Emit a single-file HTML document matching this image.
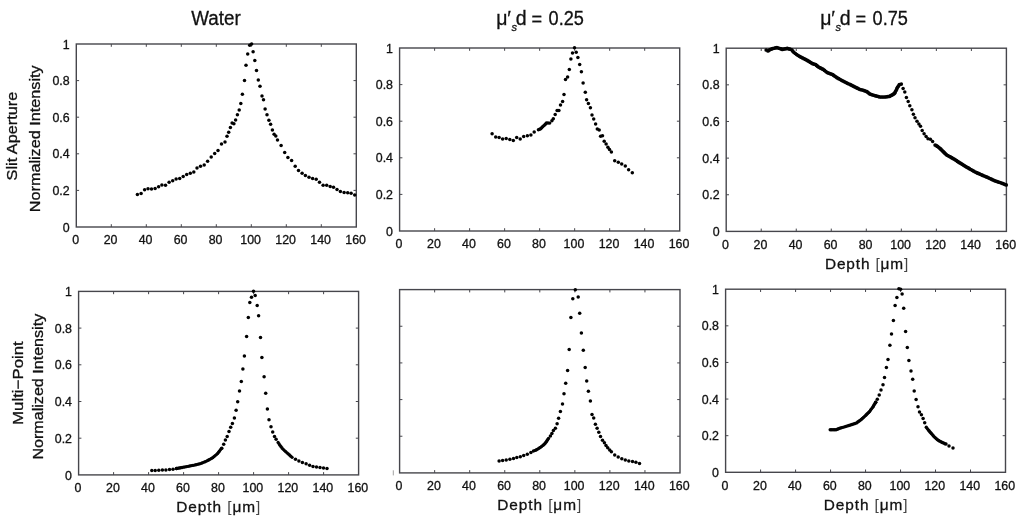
<!DOCTYPE html>
<html><head><meta charset="utf-8"><title>Depth profiles</title>
<style>
html,body{margin:0;padding:0;background:#fff;width:1024px;height:523px;overflow:hidden;}
svg{display:block;will-change:transform;}
text{font-family:"Liberation Sans",sans-serif;}
</style></head><body>
<svg width="1024" height="523" viewBox="0 0 1024 523"><rect width="1024" height="523" fill="#fff"/>
<g stroke="#46464c" stroke-width="1.4" fill="none">
<rect x="76.3" y="44" width="280" height="183"/>
<path stroke-width="1" d="M111.3 227v-2.8M111.3 44v2.8M146.3 227v-2.8M146.3 44v2.8M181.3 227v-2.8M181.3 44v2.8M216.3 227v-2.8M216.3 44v2.8M251.3 227v-2.8M251.3 44v2.8M286.3 227v-2.8M286.3 44v2.8M321.3 227v-2.8M321.3 44v2.8M76.3 190.4h2.8M356.3 190.4h-2.8M76.3 153.8h2.8M356.3 153.8h-2.8M76.3 117.2h2.8M356.3 117.2h-2.8M76.3 80.6h2.8M356.3 80.6h-2.8"/>
</g>
<g stroke="#46464c" stroke-width="1.4" fill="none">
<rect x="399.6" y="48" width="280.1" height="183"/>
<path stroke-width="1" d="M434.61 231v-2.8M434.61 48v2.8M469.62 231v-2.8M469.62 48v2.8M504.64 231v-2.8M504.64 48v2.8M539.65 231v-2.8M539.65 48v2.8M574.66 231v-2.8M574.66 48v2.8M609.68 231v-2.8M609.68 48v2.8M644.69 231v-2.8M644.69 48v2.8M399.6 194.4h2.8M679.7 194.4h-2.8M399.6 157.8h2.8M679.7 157.8h-2.8M399.6 121.2h2.8M679.7 121.2h-2.8M399.6 84.6h2.8M679.7 84.6h-2.8"/>
</g>
<g stroke="#46464c" stroke-width="1.4" fill="none">
<rect x="726.2" y="48.2" width="280.2" height="183.2"/>
<path stroke-width="1" d="M761.23 231.4v-2.8M761.23 48.2v2.8M796.25 231.4v-2.8M796.25 48.2v2.8M831.27 231.4v-2.8M831.27 48.2v2.8M866.3 231.4v-2.8M866.3 48.2v2.8M901.33 231.4v-2.8M901.33 48.2v2.8M936.35 231.4v-2.8M936.35 48.2v2.8M971.38 231.4v-2.8M971.38 48.2v2.8M726.2 194.76h2.8M1006.4 194.76h-2.8M726.2 158.12h2.8M1006.4 158.12h-2.8M726.2 121.48h2.8M1006.4 121.48h-2.8M726.2 84.84h2.8M1006.4 84.84h-2.8"/>
</g>
<g stroke="#46464c" stroke-width="1.4" fill="none">
<rect x="78.6" y="291.4" width="280" height="183.5"/>
<path stroke-width="1" d="M113.6 474.9v-2.8M113.6 291.4v2.8M148.6 474.9v-2.8M148.6 291.4v2.8M183.6 474.9v-2.8M183.6 291.4v2.8M218.6 474.9v-2.8M218.6 291.4v2.8M253.6 474.9v-2.8M253.6 291.4v2.8M288.6 474.9v-2.8M288.6 291.4v2.8M323.6 474.9v-2.8M323.6 291.4v2.8M78.6 438.2h2.8M358.6 438.2h-2.8M78.6 401.5h2.8M358.6 401.5h-2.8M78.6 364.8h2.8M358.6 364.8h-2.8M78.6 328.1h2.8M358.6 328.1h-2.8"/>
</g>
<g stroke="#46464c" stroke-width="1.4" fill="none">
<rect x="399.6" y="289.6" width="280.4" height="183.3"/>
<path stroke-width="1" d="M434.65 472.9v-2.8M434.65 289.6v2.8M469.7 472.9v-2.8M469.7 289.6v2.8M504.75 472.9v-2.8M504.75 289.6v2.8M539.8 472.9v-2.8M539.8 289.6v2.8M574.85 472.9v-2.8M574.85 289.6v2.8M609.9 472.9v-2.8M609.9 289.6v2.8M644.95 472.9v-2.8M644.95 289.6v2.8M399.6 436.24h2.8M680 436.24h-2.8M399.6 399.58h2.8M680 399.58h-2.8M399.6 362.92h2.8M680 362.92h-2.8M399.6 326.26h2.8M680 326.26h-2.8"/>
</g>
<g stroke="#46464c" stroke-width="1.4" fill="none">
<rect x="725.6" y="289.2" width="279.9" height="183.1"/>
<path stroke-width="1" d="M760.59 472.3v-2.8M760.59 289.2v2.8M795.58 472.3v-2.8M795.58 289.2v2.8M830.56 472.3v-2.8M830.56 289.2v2.8M865.55 472.3v-2.8M865.55 289.2v2.8M900.54 472.3v-2.8M900.54 289.2v2.8M935.52 472.3v-2.8M935.52 289.2v2.8M970.51 472.3v-2.8M970.51 289.2v2.8M725.6 435.68h2.8M1005.5 435.68h-2.8M725.6 399.06h2.8M1005.5 399.06h-2.8M725.6 362.44h2.8M1005.5 362.44h-2.8M725.6 325.82h2.8M1005.5 325.82h-2.8"/>
</g>
<path d="M393.3 470.3V475.4" stroke="#999" stroke-width="0.9"/>
<g font-size="12.4" fill="#111" stroke="#111" stroke-width="0.3">
<text x="75.6" y="244.2" text-anchor="middle">0</text>
<text x="110.6" y="244.2" text-anchor="middle">20</text>
<text x="145.6" y="244.2" text-anchor="middle">40</text>
<text x="180.6" y="244.2" text-anchor="middle">60</text>
<text x="215.6" y="244.2" text-anchor="middle">80</text>
<text x="250.6" y="244.2" text-anchor="middle">100</text>
<text x="285.6" y="244.2" text-anchor="middle">120</text>
<text x="320.6" y="244.2" text-anchor="middle">140</text>
<text x="355.6" y="244.2" text-anchor="middle">160</text>
<text x="69.7" y="231.6" text-anchor="end">0</text>
<text x="69.7" y="195" text-anchor="end">0.2</text>
<text x="69.7" y="158.4" text-anchor="end">0.4</text>
<text x="69.7" y="121.8" text-anchor="end">0.6</text>
<text x="69.7" y="85.2" text-anchor="end">0.8</text>
<text x="69.7" y="48.6" text-anchor="end">1</text>
<text x="398.9" y="248.2" text-anchor="middle">0</text>
<text x="433.91" y="248.2" text-anchor="middle">20</text>
<text x="468.93" y="248.2" text-anchor="middle">40</text>
<text x="503.94" y="248.2" text-anchor="middle">60</text>
<text x="538.95" y="248.2" text-anchor="middle">80</text>
<text x="573.96" y="248.2" text-anchor="middle">100</text>
<text x="608.98" y="248.2" text-anchor="middle">120</text>
<text x="643.99" y="248.2" text-anchor="middle">140</text>
<text x="679" y="248.2" text-anchor="middle">160</text>
<text x="393" y="235.6" text-anchor="end">0</text>
<text x="393" y="199" text-anchor="end">0.2</text>
<text x="393" y="162.4" text-anchor="end">0.4</text>
<text x="393" y="125.8" text-anchor="end">0.6</text>
<text x="393" y="89.2" text-anchor="end">0.8</text>
<text x="393" y="52.6" text-anchor="end">1</text>
<text x="725.5" y="248.6" text-anchor="middle">0</text>
<text x="760.52" y="248.6" text-anchor="middle">20</text>
<text x="795.55" y="248.6" text-anchor="middle">40</text>
<text x="830.57" y="248.6" text-anchor="middle">60</text>
<text x="865.6" y="248.6" text-anchor="middle">80</text>
<text x="900.62" y="248.6" text-anchor="middle">100</text>
<text x="935.65" y="248.6" text-anchor="middle">120</text>
<text x="970.67" y="248.6" text-anchor="middle">140</text>
<text x="1005.7" y="248.6" text-anchor="middle">160</text>
<text x="719.6" y="236" text-anchor="end">0</text>
<text x="719.6" y="199.36" text-anchor="end">0.2</text>
<text x="719.6" y="162.72" text-anchor="end">0.4</text>
<text x="719.6" y="126.08" text-anchor="end">0.6</text>
<text x="719.6" y="89.44" text-anchor="end">0.8</text>
<text x="719.6" y="52.8" text-anchor="end">1</text>
<text x="77.9" y="492.1" text-anchor="middle">0</text>
<text x="112.9" y="492.1" text-anchor="middle">20</text>
<text x="147.9" y="492.1" text-anchor="middle">40</text>
<text x="182.9" y="492.1" text-anchor="middle">60</text>
<text x="217.9" y="492.1" text-anchor="middle">80</text>
<text x="252.9" y="492.1" text-anchor="middle">100</text>
<text x="287.9" y="492.1" text-anchor="middle">120</text>
<text x="322.9" y="492.1" text-anchor="middle">140</text>
<text x="357.9" y="492.1" text-anchor="middle">160</text>
<text x="72" y="479.5" text-anchor="end">0</text>
<text x="72" y="442.8" text-anchor="end">0.2</text>
<text x="72" y="406.1" text-anchor="end">0.4</text>
<text x="72" y="369.4" text-anchor="end">0.6</text>
<text x="72" y="332.7" text-anchor="end">0.8</text>
<text x="72" y="296" text-anchor="end">1</text>
<text x="398.9" y="490.1" text-anchor="middle">0</text>
<text x="433.95" y="490.1" text-anchor="middle">20</text>
<text x="469" y="490.1" text-anchor="middle">40</text>
<text x="504.05" y="490.1" text-anchor="middle">60</text>
<text x="539.1" y="490.1" text-anchor="middle">80</text>
<text x="574.15" y="490.1" text-anchor="middle">100</text>
<text x="609.2" y="490.1" text-anchor="middle">120</text>
<text x="644.25" y="490.1" text-anchor="middle">140</text>
<text x="679.3" y="490.1" text-anchor="middle">160</text>
<text x="724.9" y="489.5" text-anchor="middle">0</text>
<text x="759.89" y="489.5" text-anchor="middle">20</text>
<text x="794.88" y="489.5" text-anchor="middle">40</text>
<text x="829.86" y="489.5" text-anchor="middle">60</text>
<text x="864.85" y="489.5" text-anchor="middle">80</text>
<text x="899.84" y="489.5" text-anchor="middle">100</text>
<text x="934.82" y="489.5" text-anchor="middle">120</text>
<text x="969.81" y="489.5" text-anchor="middle">140</text>
<text x="1004.8" y="489.5" text-anchor="middle">160</text>
<text x="719" y="476.9" text-anchor="end">0</text>
<text x="719" y="440.28" text-anchor="end">0.2</text>
<text x="719" y="403.66" text-anchor="end">0.4</text>
<text x="719" y="367.04" text-anchor="end">0.6</text>
<text x="719" y="330.42" text-anchor="end">0.8</text>
<text x="719" y="293.8" text-anchor="end">1</text>
</g>
<g font-size="19.5" fill="#111" stroke="#111" stroke-width="0.3">
<text x="191.2" y="25" textLength="49.5" lengthAdjust="spacingAndGlyphs">Water</text>
<text x="496.2" y="24.6">μ</text>
<text x="507.2" y="24.6">′</text>
<text x="511.4" y="31.3" style="font-size:11px;font-style:italic">s</text>
<text x="515.8" y="24.6">d</text>
<text x="531.4" y="26.1" textLength="10.6" lengthAdjust="spacingAndGlyphs">=</text>
<text x="548.6" y="24.6" textLength="35.3" lengthAdjust="spacingAndGlyphs">0.25</text>
<text x="820.2" y="24.6">μ</text>
<text x="831.2" y="24.6">′</text>
<text x="835.4" y="31.3" style="font-size:11px;font-style:italic">s</text>
<text x="839.8" y="24.6">d</text>
<text x="855.4" y="26.1" textLength="10.6" lengthAdjust="spacingAndGlyphs">=</text>
<text x="872.6" y="24.6" textLength="35.3" lengthAdjust="spacingAndGlyphs">0.75</text>
</g>
<g font-size="15.4" fill="#111" stroke="#111" stroke-width="0.3">
<text x="825" y="268.9" textLength="83.2" lengthAdjust="spacing">Depth <tspan fill="#444" stroke="none">[</tspan>μm<tspan fill="#444" stroke="none">]</tspan></text>
<text x="176.2" y="512.4" textLength="84.1" lengthAdjust="spacing">Depth <tspan fill="#444" stroke="none">[</tspan>μm<tspan fill="#444" stroke="none">]</tspan></text>
<text x="497.2" y="509.8" textLength="84" lengthAdjust="spacing">Depth <tspan fill="#444" stroke="none">[</tspan>μm<tspan fill="#444" stroke="none">]</tspan></text>
<text x="823.8" y="509.9" textLength="83.7" lengthAdjust="spacing">Depth <tspan fill="#444" stroke="none">[</tspan>μm<tspan fill="#444" stroke="none">]</tspan></text>
</g>
<g font-size="15" fill="#111" stroke="#111" stroke-width="0.3">
<text transform="translate(17 180.4) rotate(-90)" x="0" y="0" textLength="88.6" lengthAdjust="spacingAndGlyphs">Slit Aperture</text>
<text transform="translate(40 212.2) rotate(-90)" x="0" y="0" textLength="146.8" lengthAdjust="spacingAndGlyphs">Normalized Intensity</text>
<text transform="translate(23 425) rotate(-90)" x="0" y="0" textLength="83.8" lengthAdjust="spacingAndGlyphs">Multi−Point</text>
<text transform="translate(42.6 459.6) rotate(-90)" x="0" y="0" textLength="145.8" lengthAdjust="spacingAndGlyphs">Normalized Intensity</text>
</g>
<g fill="#000">
<circle cx="137.4" cy="194.5" r="1.75"/><circle cx="141.1" cy="193.4" r="1.75"/><circle cx="144.6" cy="189.8" r="1.75"/><circle cx="148" cy="188.8" r="1.75"/><circle cx="151.5" cy="189.1" r="1.75"/><circle cx="155.1" cy="188.5" r="1.75"/><circle cx="158.6" cy="186.7" r="1.75"/><circle cx="161.9" cy="184.9" r="1.75"/><circle cx="165.5" cy="185.2" r="1.75"/><circle cx="169.1" cy="182.3" r="1.75"/><circle cx="172.7" cy="180.8" r="1.75"/><circle cx="176.1" cy="179.1" r="1.75"/><circle cx="179.7" cy="178.5" r="1.75"/><circle cx="183.2" cy="176.6" r="1.75"/><circle cx="186.7" cy="174.4" r="1.75"/><circle cx="190.3" cy="173.3" r="1.75"/><circle cx="193.8" cy="172.1" r="1.75"/><circle cx="197" cy="168.1" r="1.75"/><circle cx="200.5" cy="166.2" r="1.75"/><circle cx="204.2" cy="164.9" r="1.75"/><circle cx="207.6" cy="161.2" r="1.75"/><circle cx="211.2" cy="157.1" r="1.75"/><circle cx="214.7" cy="153.4" r="1.75"/><circle cx="218" cy="150.5" r="1.75"/><circle cx="221.5" cy="143.9" r="1.75"/><circle cx="225" cy="142.1" r="1.75"/><circle cx="227" cy="136.3" r="1.75"/><circle cx="228.7" cy="132.3" r="1.75"/><circle cx="230.4" cy="127.6" r="1.75"/><circle cx="232.1" cy="123.1" r="1.75"/><circle cx="233.9" cy="123.8" r="1.75"/><circle cx="235.6" cy="120.1" r="1.75"/><circle cx="237.4" cy="114.7" r="1.75"/><circle cx="239.2" cy="109.9" r="1.75"/><circle cx="240.8" cy="103.6" r="1.75"/><circle cx="242.4" cy="94.2" r="1.75"/><circle cx="244.5" cy="80.5" r="1.75"/><circle cx="246" cy="65.2" r="1.75"/><circle cx="247.7" cy="54" r="1.75"/><circle cx="249.7" cy="45.2" r="1.75"/><circle cx="251.6" cy="44" r="1.75"/><circle cx="253.1" cy="51.8" r="1.75"/><circle cx="254.8" cy="60.4" r="1.75"/><circle cx="256.5" cy="70.4" r="1.75"/><circle cx="258.3" cy="79.9" r="1.75"/><circle cx="260" cy="86.2" r="1.75"/><circle cx="262" cy="96.1" r="1.75"/><circle cx="263.5" cy="99.8" r="1.75"/><circle cx="265.1" cy="108.9" r="1.75"/><circle cx="267" cy="114.7" r="1.75"/><circle cx="268.9" cy="120.2" r="1.75"/><circle cx="270.6" cy="124.2" r="1.75"/><circle cx="272.4" cy="130" r="1.75"/><circle cx="274.1" cy="134.2" r="1.75"/><circle cx="275.8" cy="135.9" r="1.75"/><circle cx="277.5" cy="139.9" r="1.75"/><circle cx="281.1" cy="145.5" r="1.75"/><circle cx="284.7" cy="152.5" r="1.75"/><circle cx="287.9" cy="157.6" r="1.75"/><circle cx="291.6" cy="160.5" r="1.75"/><circle cx="295.2" cy="166.2" r="1.75"/><circle cx="298.5" cy="170.4" r="1.75"/><circle cx="302.1" cy="173.3" r="1.75"/><circle cx="305.4" cy="175.4" r="1.75"/><circle cx="309" cy="177.3" r="1.75"/><circle cx="312.6" cy="178.5" r="1.75"/><circle cx="316.2" cy="179.3" r="1.75"/><circle cx="319.5" cy="182.2" r="1.75"/><circle cx="323.1" cy="185.2" r="1.75"/><circle cx="326.7" cy="185.2" r="1.75"/><circle cx="330.2" cy="186.5" r="1.75"/><circle cx="333.5" cy="187.3" r="1.75"/><circle cx="337" cy="189.4" r="1.75"/><circle cx="340.4" cy="191.4" r="1.75"/><circle cx="344.1" cy="192.6" r="1.75"/><circle cx="347.7" cy="192.8" r="1.75"/><circle cx="351.1" cy="193.2" r="1.75"/><circle cx="354.7" cy="194.9" r="1.75"/>

<circle cx="492.1" cy="133.7" r="1.75"/><circle cx="495.7" cy="137" r="1.75"/><circle cx="499.1" cy="137.4" r="1.75"/><circle cx="502.6" cy="138.9" r="1.75"/><circle cx="506.2" cy="138.4" r="1.75"/><circle cx="509.8" cy="139.4" r="1.75"/><circle cx="513.3" cy="140.5" r="1.75"/><circle cx="516.7" cy="137.4" r="1.75"/><circle cx="520.2" cy="138.9" r="1.75"/><circle cx="523.7" cy="136.4" r="1.75"/><circle cx="527.4" cy="135.8" r="1.75"/><circle cx="530.9" cy="135.1" r="1.75"/><circle cx="534.2" cy="132.1" r="1.75"/><circle cx="551.9" cy="120.7" r="1.75"/><circle cx="553.3" cy="118.8" r="1.75"/><circle cx="555.2" cy="114.6" r="1.75"/><circle cx="557.1" cy="110.6" r="1.75"/><circle cx="558.9" cy="110.4" r="1.75"/><circle cx="560.5" cy="104.9" r="1.75"/><circle cx="562.6" cy="101.5" r="1.75"/><circle cx="564" cy="94.5" r="1.75"/><circle cx="565.5" cy="79.6" r="1.75"/><circle cx="567.6" cy="77" r="1.75"/><circle cx="569.3" cy="69.6" r="1.75"/><circle cx="570.9" cy="59.1" r="1.75"/><circle cx="572.5" cy="52.9" r="1.75"/><circle cx="574.5" cy="47.8" r="1.75"/><circle cx="576.2" cy="52.3" r="1.75"/><circle cx="577.9" cy="57.4" r="1.75"/><circle cx="579.7" cy="64.6" r="1.75"/><circle cx="581.4" cy="71.8" r="1.75"/><circle cx="583.1" cy="83" r="1.75"/><circle cx="585.3" cy="92.3" r="1.75"/><circle cx="586.6" cy="99.7" r="1.75"/><circle cx="588.4" cy="103.6" r="1.75"/><circle cx="590.4" cy="107.8" r="1.75"/><circle cx="592" cy="115" r="1.75"/><circle cx="593.7" cy="118.9" r="1.75"/><circle cx="595.6" cy="123.9" r="1.75"/><circle cx="597.3" cy="129.1" r="1.75"/><circle cx="599.2" cy="129.9" r="1.75"/><circle cx="600.6" cy="136.3" r="1.75"/><circle cx="602.5" cy="135.7" r="1.75"/><circle cx="604.2" cy="141.3" r="1.75"/><circle cx="606.1" cy="143.9" r="1.75"/><circle cx="607.9" cy="147.2" r="1.75"/><circle cx="609.5" cy="149.6" r="1.75"/><circle cx="611.4" cy="152" r="1.75"/><circle cx="614.7" cy="160.8" r="1.75"/><circle cx="618.3" cy="162.3" r="1.75"/><circle cx="621.7" cy="164" r="1.75"/><circle cx="625.3" cy="165.9" r="1.75"/><circle cx="628.6" cy="169.7" r="1.75"/><circle cx="632.3" cy="172.8" r="1.75"/>
<circle cx="538.4" cy="129.8" r="1.7"/><circle cx="539.55" cy="129.25" r="1.7"/><circle cx="540.7" cy="128.7" r="1.7"/><circle cx="541.65" cy="127.75" r="1.7"/><circle cx="542.6" cy="126.8" r="1.7"/><circle cx="543.75" cy="125.8" r="1.7"/><circle cx="544.9" cy="124.8" r="1.7"/><circle cx="545.65" cy="123.85" r="1.7"/><circle cx="546.4" cy="122.9" r="1.7"/><circle cx="548" cy="123" r="1.7"/><circle cx="549.7" cy="123.1" r="1.7"/>
<circle cx="903.1" cy="88.5" r="1.75"/><circle cx="904.8" cy="92" r="1.75"/><circle cx="906.4" cy="97.5" r="1.75"/><circle cx="908.2" cy="101.4" r="1.75"/><circle cx="909.8" cy="105.8" r="1.75"/><circle cx="911.9" cy="109.8" r="1.75"/><circle cx="913.4" cy="114.2" r="1.75"/><circle cx="915" cy="117.7" r="1.75"/><circle cx="917" cy="121.2" r="1.75"/><circle cx="918.9" cy="123.9" r="1.75"/><circle cx="920.5" cy="126.3" r="1.75"/><circle cx="922.2" cy="130.4" r="1.75"/><circle cx="924.1" cy="133.7" r="1.75"/><circle cx="926.1" cy="136.6" r="1.75"/><circle cx="928" cy="138.8" r="1.75"/><circle cx="930.4" cy="139.2" r="1.75"/><circle cx="932.6" cy="141.6" r="1.75"/>
<circle cx="766.2" cy="50" r="1.85"/><circle cx="768" cy="51" r="1.85"/><circle cx="769" cy="50.25" r="1.85"/><circle cx="770" cy="49.5" r="1.85"/><circle cx="771.3" cy="49.05" r="1.85"/><circle cx="772.6" cy="48.6" r="1.85"/><circle cx="774.03" cy="48.27" r="1.85"/><circle cx="775.47" cy="47.93" r="1.85"/><circle cx="776.9" cy="47.6" r="1.85"/><circle cx="778.45" cy="48.05" r="1.85"/><circle cx="780" cy="48.5" r="1.85"/><circle cx="781.15" cy="48.95" r="1.85"/><circle cx="782.3" cy="49.4" r="1.85"/><circle cx="783.65" cy="49.1" r="1.85"/><circle cx="785" cy="48.8" r="1.85"/><circle cx="786.2" cy="48.6" r="1.85"/><circle cx="787.4" cy="48.4" r="1.85"/><circle cx="788.7" cy="48.8" r="1.85"/><circle cx="790" cy="49.2" r="1.85"/><circle cx="791.7" cy="49.8" r="1.85"/><circle cx="792.85" cy="51.15" r="1.85"/><circle cx="794" cy="52.5" r="1.85"/><circle cx="795.37" cy="53.5" r="1.85"/><circle cx="796.73" cy="54.5" r="1.85"/><circle cx="798.1" cy="55.5" r="1.85"/><circle cx="799.55" cy="56.35" r="1.85"/><circle cx="801" cy="57.2" r="1.85"/><circle cx="802.48" cy="57.95" r="1.85"/><circle cx="803.95" cy="58.7" r="1.85"/><circle cx="805.42" cy="59.45" r="1.85"/><circle cx="806.9" cy="60.2" r="1.85"/><circle cx="808.06" cy="60.9" r="1.85"/><circle cx="809.22" cy="61.6" r="1.85"/><circle cx="810.38" cy="62.3" r="1.85"/><circle cx="811.54" cy="63" r="1.85"/><circle cx="812.7" cy="63.7" r="1.85"/><circle cx="814.15" cy="64.15" r="1.85"/><circle cx="815.6" cy="64.6" r="1.85"/><circle cx="816.57" cy="65.4" r="1.85"/><circle cx="817.53" cy="66.2" r="1.85"/><circle cx="818.5" cy="67" r="1.85"/><circle cx="819.67" cy="67.6" r="1.85"/><circle cx="820.85" cy="68.2" r="1.85"/><circle cx="822.03" cy="68.8" r="1.85"/><circle cx="823.2" cy="69.4" r="1.85"/><circle cx="824.57" cy="70.47" r="1.85"/><circle cx="825.93" cy="71.53" r="1.85"/><circle cx="827.3" cy="72.6" r="1.85"/><circle cx="828.62" cy="73.1" r="1.85"/><circle cx="829.95" cy="73.6" r="1.85"/><circle cx="831.27" cy="74.1" r="1.85"/><circle cx="832.6" cy="74.6" r="1.85"/><circle cx="833.77" cy="75.42" r="1.85"/><circle cx="834.95" cy="76.25" r="1.85"/><circle cx="836.12" cy="77.08" r="1.85"/><circle cx="837.3" cy="77.9" r="1.85"/><circle cx="838.75" cy="78.7" r="1.85"/><circle cx="840.2" cy="79.5" r="1.85"/><circle cx="841.65" cy="80.3" r="1.85"/><circle cx="843.1" cy="81.1" r="1.85"/><circle cx="844.58" cy="81.82" r="1.85"/><circle cx="846.05" cy="82.55" r="1.85"/><circle cx="847.52" cy="83.28" r="1.85"/><circle cx="849" cy="84" r="1.85"/><circle cx="850.45" cy="84.72" r="1.85"/><circle cx="851.9" cy="85.45" r="1.85"/><circle cx="853.35" cy="86.18" r="1.85"/><circle cx="854.8" cy="86.9" r="1.85"/><circle cx="856.1" cy="87.55" r="1.85"/><circle cx="857.4" cy="88.2" r="1.85"/><circle cx="858.7" cy="88.85" r="1.85"/><circle cx="860" cy="89.5" r="1.85"/><circle cx="861.75" cy="89.9" r="1.85"/><circle cx="863.5" cy="90.3" r="1.85"/><circle cx="864.67" cy="90.77" r="1.85"/><circle cx="865.83" cy="91.23" r="1.85"/><circle cx="867" cy="91.7" r="1.85"/><circle cx="868" cy="92.5" r="1.85"/><circle cx="869" cy="93.3" r="1.85"/><circle cx="870" cy="94.1" r="1.85"/><circle cx="871.53" cy="94.57" r="1.85"/><circle cx="873.07" cy="95.03" r="1.85"/><circle cx="874.6" cy="95.5" r="1.85"/><circle cx="875.92" cy="95.88" r="1.85"/><circle cx="877.25" cy="96.25" r="1.85"/><circle cx="878.58" cy="96.62" r="1.85"/><circle cx="879.9" cy="97" r="1.85"/><circle cx="881.47" cy="97" r="1.85"/><circle cx="883.03" cy="97" r="1.85"/><circle cx="884.6" cy="97" r="1.85"/><circle cx="886.17" cy="96.8" r="1.85"/><circle cx="887.73" cy="96.6" r="1.85"/><circle cx="889.3" cy="96.4" r="1.85"/><circle cx="890.47" cy="95.8" r="1.85"/><circle cx="891.63" cy="95.2" r="1.85"/><circle cx="892.8" cy="94.6" r="1.85"/><circle cx="893.7" cy="93.9" r="1.85"/><circle cx="894.6" cy="93.2" r="1.85"/><circle cx="895.3" cy="91.85" r="1.85"/><circle cx="896" cy="90.5" r="1.85"/><circle cx="896.75" cy="88.9" r="1.85"/><circle cx="897.5" cy="87.3" r="1.85"/><circle cx="898.4" cy="86" r="1.85"/><circle cx="899.3" cy="84.7" r="1.85"/><circle cx="901.3" cy="84.1" r="1.85"/><circle cx="935.1" cy="145" r="1.85"/><circle cx="936.3" cy="145.7" r="1.85"/><circle cx="937.5" cy="146.4" r="1.85"/><circle cx="938.7" cy="147.35" r="1.85"/><circle cx="939.9" cy="148.3" r="1.85"/><circle cx="940.8" cy="149.2" r="1.85"/><circle cx="941.7" cy="150.1" r="1.85"/><circle cx="942.6" cy="151" r="1.85"/><circle cx="943.58" cy="151.95" r="1.85"/><circle cx="944.55" cy="152.9" r="1.85"/><circle cx="945.52" cy="153.85" r="1.85"/><circle cx="946.5" cy="154.8" r="1.85"/><circle cx="947.77" cy="155.52" r="1.85"/><circle cx="949.03" cy="156.23" r="1.85"/><circle cx="950.3" cy="156.95" r="1.85"/><circle cx="951.57" cy="157.67" r="1.85"/><circle cx="952.83" cy="158.38" r="1.85"/><circle cx="954.1" cy="159.1" r="1.85"/><circle cx="955.26" cy="159.86" r="1.85"/><circle cx="956.42" cy="160.62" r="1.85"/><circle cx="957.58" cy="161.38" r="1.85"/><circle cx="958.74" cy="162.14" r="1.85"/><circle cx="959.9" cy="162.9" r="1.85"/><circle cx="961.08" cy="163.62" r="1.85"/><circle cx="962.25" cy="164.35" r="1.85"/><circle cx="963.42" cy="165.08" r="1.85"/><circle cx="964.6" cy="165.8" r="1.85"/><circle cx="965.8" cy="166.53" r="1.85"/><circle cx="967" cy="167.25" r="1.85"/><circle cx="968.2" cy="167.97" r="1.85"/><circle cx="969.4" cy="168.7" r="1.85"/><circle cx="970.85" cy="169.52" r="1.85"/><circle cx="972.3" cy="170.35" r="1.85"/><circle cx="973.75" cy="171.18" r="1.85"/><circle cx="975.2" cy="172" r="1.85"/><circle cx="976.47" cy="172.57" r="1.85"/><circle cx="977.73" cy="173.13" r="1.85"/><circle cx="979" cy="173.7" r="1.85"/><circle cx="980.27" cy="174.27" r="1.85"/><circle cx="981.53" cy="174.83" r="1.85"/><circle cx="982.8" cy="175.4" r="1.85"/><circle cx="984.22" cy="176" r="1.85"/><circle cx="985.65" cy="176.6" r="1.85"/><circle cx="987.08" cy="177.2" r="1.85"/><circle cx="988.5" cy="177.8" r="1.85"/><circle cx="989.95" cy="178.5" r="1.85"/><circle cx="991.4" cy="179.2" r="1.85"/><circle cx="992.85" cy="179.9" r="1.85"/><circle cx="994.3" cy="180.6" r="1.85"/><circle cx="995.72" cy="181.07" r="1.85"/><circle cx="997.15" cy="181.55" r="1.85"/><circle cx="998.58" cy="182.03" r="1.85"/><circle cx="1000" cy="182.5" r="1.85"/><circle cx="1001.55" cy="183.1" r="1.85"/><circle cx="1003.1" cy="183.7" r="1.85"/><circle cx="1004.65" cy="184.3" r="1.85"/><circle cx="1006.2" cy="184.9" r="1.85"/>
<circle cx="151.8" cy="470.5" r="1.75"/><circle cx="155.2" cy="470.4" r="1.75"/><circle cx="158.8" cy="470.2" r="1.75"/><circle cx="162.4" cy="470" r="1.75"/><circle cx="165.9" cy="470" r="1.75"/><circle cx="169.5" cy="469.5" r="1.75"/><circle cx="173" cy="469.3" r="1.75"/><circle cx="176.4" cy="468.5" r="1.75"/><circle cx="221.8" cy="448.2" r="1.75"/><circle cx="223.7" cy="444.2" r="1.75"/><circle cx="225.4" cy="440.1" r="1.75"/><circle cx="227.2" cy="436.5" r="1.75"/><circle cx="229" cy="431.5" r="1.75"/><circle cx="230.7" cy="427.2" r="1.75"/><circle cx="232.4" cy="423.5" r="1.75"/><circle cx="234.4" cy="418" r="1.75"/><circle cx="236.1" cy="410.3" r="1.75"/><circle cx="237.7" cy="401.8" r="1.75"/><circle cx="239.5" cy="390.9" r="1.75"/><circle cx="241.3" cy="381.4" r="1.75"/><circle cx="242.9" cy="368.9" r="1.75"/><circle cx="244.4" cy="355.9" r="1.75"/><circle cx="246.6" cy="336.5" r="1.75"/><circle cx="248.3" cy="317.5" r="1.75"/><circle cx="249.8" cy="302.6" r="1.75"/><circle cx="251.5" cy="297.2" r="1.75"/><circle cx="253.5" cy="291.2" r="1.75"/><circle cx="255.2" cy="295.4" r="1.75"/><circle cx="257.2" cy="305.5" r="1.75"/><circle cx="258.6" cy="315.8" r="1.75"/><circle cx="260.5" cy="337.6" r="1.75"/><circle cx="261.9" cy="357.5" r="1.75"/><circle cx="264.1" cy="376.8" r="1.75"/><circle cx="265.7" cy="393.3" r="1.75"/><circle cx="267.4" cy="409.1" r="1.75"/><circle cx="269" cy="419.7" r="1.75"/><circle cx="271" cy="426.8" r="1.75"/><circle cx="272.7" cy="432" r="1.75"/><circle cx="274.5" cy="436.5" r="1.75"/><circle cx="276.1" cy="439.2" r="1.75"/><circle cx="295.5" cy="459.3" r="1.75"/><circle cx="298.9" cy="461" r="1.75"/><circle cx="302.4" cy="462.6" r="1.75"/><circle cx="306.1" cy="463.8" r="1.75"/><circle cx="309.6" cy="465.3" r="1.75"/><circle cx="313" cy="466.4" r="1.75"/><circle cx="316.5" cy="467" r="1.75"/><circle cx="320" cy="467.6" r="1.75"/><circle cx="323.5" cy="468" r="1.75"/><circle cx="327" cy="468.6" r="1.75"/>
<circle cx="176.6" cy="468.5" r="1.65"/><circle cx="177.97" cy="468.25" r="1.65"/><circle cx="179.35" cy="468" r="1.65"/><circle cx="180.72" cy="467.75" r="1.65"/><circle cx="182.1" cy="467.5" r="1.65"/><circle cx="183.62" cy="467.2" r="1.65"/><circle cx="185.15" cy="466.9" r="1.65"/><circle cx="186.67" cy="466.6" r="1.65"/><circle cx="188.2" cy="466.3" r="1.65"/><circle cx="189.75" cy="466" r="1.65"/><circle cx="191.3" cy="465.7" r="1.65"/><circle cx="192.85" cy="465.4" r="1.65"/><circle cx="194.4" cy="465.1" r="1.65"/><circle cx="195.93" cy="464.73" r="1.65"/><circle cx="197.45" cy="464.35" r="1.65"/><circle cx="198.97" cy="463.98" r="1.65"/><circle cx="200.5" cy="463.6" r="1.65"/><circle cx="202.03" cy="462.98" r="1.65"/><circle cx="203.55" cy="462.35" r="1.65"/><circle cx="205.07" cy="461.73" r="1.65"/><circle cx="206.6" cy="461.1" r="1.65"/><circle cx="207.82" cy="460.42" r="1.65"/><circle cx="209.04" cy="459.74" r="1.65"/><circle cx="210.26" cy="459.06" r="1.65"/><circle cx="211.48" cy="458.38" r="1.65"/><circle cx="212.7" cy="457.7" r="1.65"/><circle cx="213.92" cy="456.65" r="1.65"/><circle cx="215.15" cy="455.6" r="1.65"/><circle cx="216.38" cy="454.55" r="1.65"/><circle cx="217.6" cy="453.5" r="1.65"/><circle cx="218.53" cy="452.27" r="1.65"/><circle cx="219.45" cy="451.05" r="1.65"/><circle cx="220.38" cy="449.83" r="1.65"/><circle cx="221.3" cy="448.6" r="1.65"/><circle cx="278.1" cy="442.4" r="1.65"/><circle cx="279.05" cy="443.85" r="1.65"/><circle cx="280" cy="445.3" r="1.65"/><circle cx="281" cy="446.65" r="1.65"/><circle cx="282" cy="448" r="1.65"/><circle cx="283.25" cy="449.3" r="1.65"/><circle cx="284.5" cy="450.6" r="1.65"/><circle cx="285.75" cy="451.7" r="1.65"/><circle cx="287" cy="452.8" r="1.65"/><circle cx="288.25" cy="453.9" r="1.65"/><circle cx="289.5" cy="455" r="1.65"/><circle cx="290.8" cy="456.15" r="1.65"/><circle cx="292.1" cy="457.3" r="1.65"/>
<circle cx="499.1" cy="461" r="1.75"/><circle cx="502.6" cy="460.5" r="1.75"/><circle cx="506.2" cy="459.9" r="1.75"/><circle cx="509.9" cy="459.2" r="1.75"/><circle cx="513.5" cy="458.5" r="1.75"/><circle cx="516.8" cy="457.6" r="1.75"/><circle cx="520.3" cy="456.7" r="1.75"/><circle cx="523.7" cy="455.5" r="1.75"/><circle cx="527.3" cy="454.2" r="1.75"/><circle cx="530.9" cy="452.6" r="1.75"/><circle cx="550.4" cy="436" r="1.75"/><circle cx="551.9" cy="433.6" r="1.75"/><circle cx="553.4" cy="430.4" r="1.75"/><circle cx="555.4" cy="428.2" r="1.75"/><circle cx="557.1" cy="423.8" r="1.75"/><circle cx="558.6" cy="418.3" r="1.75"/><circle cx="560.4" cy="411.4" r="1.75"/><circle cx="562.5" cy="404.1" r="1.75"/><circle cx="564" cy="393.7" r="1.75"/><circle cx="565.7" cy="383.3" r="1.75"/><circle cx="567.6" cy="370.4" r="1.75"/><circle cx="569.2" cy="349.4" r="1.75"/><circle cx="570.9" cy="317.5" r="1.75"/><circle cx="572.8" cy="298.7" r="1.75"/><circle cx="575.3" cy="289.7" r="1.75"/><circle cx="578.2" cy="297" r="1.75"/><circle cx="579.7" cy="313.3" r="1.75"/><circle cx="581.4" cy="333.1" r="1.75"/><circle cx="583.3" cy="350.3" r="1.75"/><circle cx="585.2" cy="367.6" r="1.75"/><circle cx="586.7" cy="381" r="1.75"/><circle cx="588.4" cy="391.3" r="1.75"/><circle cx="590.4" cy="401.1" r="1.75"/><circle cx="592" cy="414.5" r="1.75"/><circle cx="593.7" cy="418.1" r="1.75"/><circle cx="595.4" cy="424.3" r="1.75"/><circle cx="597.1" cy="428.3" r="1.75"/><circle cx="598.8" cy="432.3" r="1.75"/><circle cx="600.5" cy="436.5" r="1.75"/><circle cx="602.5" cy="440.3" r="1.75"/><circle cx="604.4" cy="442.7" r="1.75"/><circle cx="606" cy="445.4" r="1.75"/><circle cx="607.7" cy="447.7" r="1.75"/><circle cx="609.7" cy="450.1" r="1.75"/><circle cx="611.4" cy="451.7" r="1.75"/><circle cx="614.7" cy="454.9" r="1.75"/><circle cx="618.2" cy="457.1" r="1.75"/><circle cx="621.8" cy="458.8" r="1.75"/><circle cx="625.3" cy="460.1" r="1.75"/><circle cx="628.8" cy="461" r="1.75"/><circle cx="632.5" cy="461.6" r="1.75"/><circle cx="635.9" cy="462.3" r="1.75"/><circle cx="639.5" cy="463.4" r="1.75"/>
<circle cx="533.5" cy="451" r="1.7"/><circle cx="535.2" cy="450.4" r="1.7"/><circle cx="536.45" cy="449.75" r="1.7"/><circle cx="537.7" cy="449.1" r="1.7"/><circle cx="539" cy="448.25" r="1.7"/><circle cx="540.3" cy="447.4" r="1.7"/><circle cx="541.6" cy="446.4" r="1.7"/><circle cx="542.9" cy="445.4" r="1.7"/><circle cx="543.95" cy="444.45" r="1.7"/><circle cx="545" cy="443.5" r="1.7"/><circle cx="545.9" cy="442.25" r="1.7"/><circle cx="546.8" cy="441" r="1.7"/><circle cx="547.65" cy="439.7" r="1.7"/><circle cx="548.5" cy="438.4" r="1.7"/>
<circle cx="875.7" cy="402.2" r="1.75"/><circle cx="877.3" cy="399.3" r="1.75"/><circle cx="879.2" cy="395" r="1.75"/><circle cx="881" cy="390.1" r="1.75"/><circle cx="883" cy="384.7" r="1.75"/><circle cx="884.5" cy="377.4" r="1.75"/><circle cx="886.4" cy="367.5" r="1.75"/><circle cx="888" cy="359.4" r="1.75"/><circle cx="889.9" cy="345.3" r="1.75"/><circle cx="891.5" cy="333.9" r="1.75"/><circle cx="893.4" cy="320.5" r="1.75"/><circle cx="895.1" cy="305.4" r="1.75"/><circle cx="896.9" cy="297.5" r="1.75"/><circle cx="898.9" cy="288.8" r="1.75"/><circle cx="900.6" cy="289.2" r="1.75"/><circle cx="902.1" cy="294.1" r="1.75"/><circle cx="903.7" cy="308.3" r="1.75"/><circle cx="905.6" cy="331.4" r="1.75"/><circle cx="907.3" cy="347.5" r="1.75"/><circle cx="908.9" cy="360.5" r="1.75"/><circle cx="911" cy="370.9" r="1.75"/><circle cx="912.7" cy="379.3" r="1.75"/><circle cx="914.2" cy="391.1" r="1.75"/><circle cx="916.1" cy="399.5" r="1.75"/><circle cx="918" cy="406.7" r="1.75"/><circle cx="919.5" cy="411.9" r="1.75"/><circle cx="921.4" cy="414.7" r="1.75"/><circle cx="923.1" cy="418.5" r="1.75"/><circle cx="924.7" cy="422.7" r="1.75"/><circle cx="949" cy="446.1" r="1.75"/><circle cx="953" cy="447.9" r="1.75"/>
<circle cx="830.2" cy="429.8" r="1.7"/><circle cx="831.65" cy="429.8" r="1.7"/><circle cx="833.1" cy="429.8" r="1.7"/><circle cx="834.55" cy="429.8" r="1.7"/><circle cx="836" cy="429.8" r="1.7"/><circle cx="837.27" cy="429.3" r="1.7"/><circle cx="838.53" cy="428.8" r="1.7"/><circle cx="839.8" cy="428.3" r="1.7"/><circle cx="841.32" cy="427.82" r="1.7"/><circle cx="842.85" cy="427.35" r="1.7"/><circle cx="844.38" cy="426.88" r="1.7"/><circle cx="845.9" cy="426.4" r="1.7"/><circle cx="847.42" cy="425.92" r="1.7"/><circle cx="848.95" cy="425.45" r="1.7"/><circle cx="850.48" cy="424.98" r="1.7"/><circle cx="852" cy="424.5" r="1.7"/><circle cx="853.53" cy="423.97" r="1.7"/><circle cx="855.07" cy="423.43" r="1.7"/><circle cx="856.6" cy="422.9" r="1.7"/><circle cx="857.75" cy="422.05" r="1.7"/><circle cx="858.9" cy="421.2" r="1.7"/><circle cx="860.05" cy="420.35" r="1.7"/><circle cx="861.2" cy="419.5" r="1.7"/><circle cx="862.35" cy="418.45" r="1.7"/><circle cx="863.5" cy="417.4" r="1.7"/><circle cx="864.65" cy="416.35" r="1.7"/><circle cx="865.8" cy="415.3" r="1.7"/><circle cx="866.75" cy="414.32" r="1.7"/><circle cx="867.7" cy="413.35" r="1.7"/><circle cx="868.65" cy="412.38" r="1.7"/><circle cx="869.6" cy="411.4" r="1.7"/><circle cx="870.63" cy="410" r="1.7"/><circle cx="871.67" cy="408.6" r="1.7"/><circle cx="872.7" cy="407.2" r="1.7"/><circle cx="873.45" cy="405.98" r="1.7"/><circle cx="874.2" cy="404.75" r="1.7"/><circle cx="874.95" cy="403.52" r="1.7"/><circle cx="875.7" cy="402.3" r="1.7"/><circle cx="926.3" cy="427.2" r="1.7"/><circle cx="927.3" cy="428.6" r="1.7"/><circle cx="928.3" cy="430" r="1.7"/><circle cx="929.27" cy="431.07" r="1.7"/><circle cx="930.23" cy="432.13" r="1.7"/><circle cx="931.2" cy="433.2" r="1.7"/><circle cx="932.13" cy="434.33" r="1.7"/><circle cx="933.07" cy="435.47" r="1.7"/><circle cx="934" cy="436.6" r="1.7"/><circle cx="935.17" cy="437.67" r="1.7"/><circle cx="936.33" cy="438.73" r="1.7"/><circle cx="937.5" cy="439.8" r="1.7"/><circle cx="938.63" cy="440.47" r="1.7"/><circle cx="939.77" cy="441.13" r="1.7"/><circle cx="940.9" cy="441.8" r="1.7"/><circle cx="942.23" cy="442.43" r="1.7"/><circle cx="943.57" cy="443.07" r="1.7"/><circle cx="944.9" cy="443.7" r="1.7"/><circle cx="946" cy="444" r="1.7"/>
</g></svg>
</body></html>
